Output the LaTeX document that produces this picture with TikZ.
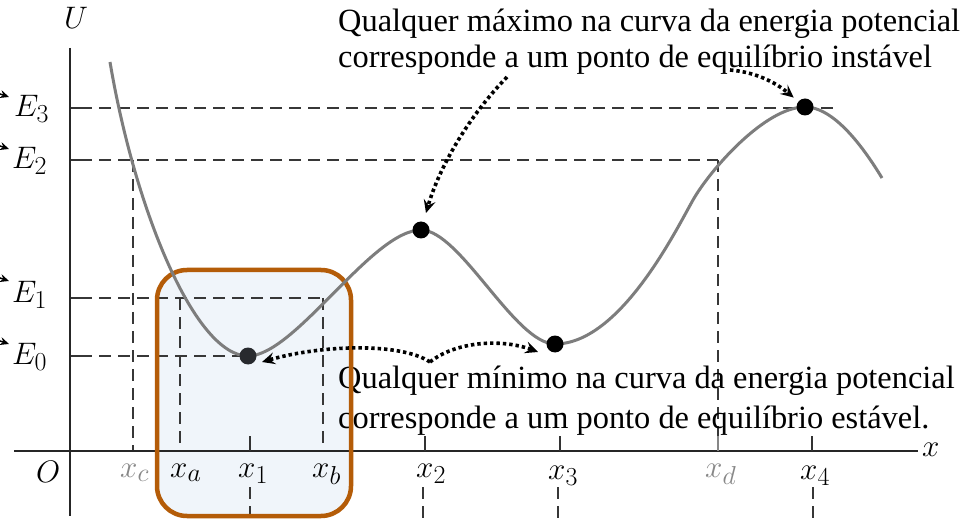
\RequirePackage{fix-cm}
\documentclass[tikz,border=0pt]{standalone}
\usepackage{graphicx}
\usepackage{fontspec}
\setmainfont{Liberation Serif}
\usetikzlibrary{arrows.meta}
\definecolor{boxorange}{RGB}{180,92,8}
\definecolor{boxfill}{RGB}{240,245,250}
\definecolor{curvegray}{RGB}{125,125,125}
\definecolor{dashgray}{RGB}{55,55,55}
\definecolor{labgray}{RGB}{135,135,135}
\definecolor{dotdark}{RGB}{40,42,46}
\newcommand{\bigmath}[1]{\scalebox{1.25}{$#1$}}
\begin{document}
\begin{tikzpicture}[x=1pt,y=-1pt,
 guide/.style={dashgray, line width=1.4pt, dash pattern=on 12pt off 7pt},
 axisline/.style={black!85, line width=1.6pt},
 tickmark/.style={black!80, line width=1.4pt},
 ucurve/.style={curvegray, line width=3pt},
 eqdot/.style={circle, fill=black, inner sep=0pt, minimum size=17pt},
 notearrow/.style={line width=3.6pt, dash pattern=on 3.4pt off 3pt, -{Stealth[length=13pt,width=12pt,inset=5pt]}, black},
 stub/.style={line width=1.5pt, -{Stealth[length=9pt,width=8pt,inset=3pt]}, black},
 mathlab/.style={font=\fontsize{24.88}{25}\selectfont, inner sep=0pt, anchor=base west},
 note/.style={font=\fontsize{32.4}{40}\selectfont, inner sep=0pt, anchor=base west},
]
\useasboundingbox (0,0) rectangle (969,521);
\fill[white] (0,0) rectangle (969,521);

% highlight box fill
\fill[boxfill, rounded corners=30pt] (157,270) rectangle (351,516);

% guide lines
\draw[guide] (80,108) -- (835,108);
\draw[guide] (80,160) -- (718,160);
\draw[guide] (80,298) -- (323,298);
\draw[guide] (80,356) -- (248,356);
\draw[tickmark] (70,108) -- (80,108);
\draw[tickmark] (70,160) -- (80,160);
\draw[tickmark] (70,298) -- (80,298);
\draw[tickmark] (70,356) -- (80,356);
\draw[guide] (133,160) -- (133,451);
\draw[guide] (180,298) -- (180,451);
\draw[guide] (323,298) -- (323,451);
\draw[guide] (718,160) -- (718,451);
\draw[guide] (250,487) -- (250,521);
\draw[guide] (423,487) -- (423,521);
\draw[guide] (558,487) -- (558,521);
\draw[guide] (813,487) -- (813,521);

% axes
\draw[axisline] (14,451) -- (918,451);
\draw[axisline] (70,48) -- (70,516);
\draw[tickmark] (250,436) -- (250,451);
\draw[tickmark] (425,436) -- (425,451);
\draw[tickmark] (560,436) -- (560,451);
\draw[tickmark, labgray] (718,436) -- (718,451);
\draw[tickmark] (812,436) -- (812,451);

% labels
\node[mathlab] (lU) at (64,29) {\bigmath{U}};
\node[mathlab] (lO) at (36,482) {\bigmath{O}};
\node[mathlab] (lx) at (922,456) {\bigmath{x}};
\node[mathlab] (lE3) at (14,117) {\bigmath{E_3}};
\node[mathlab] (lE2) at (12,169) {\bigmath{E_2}};
\node[mathlab] (lE1) at (12,302) {\bigmath{E_1}};
\node[mathlab] (lE0) at (12,364) {\bigmath{E_0}};
\node[mathlab, labgray] (lxc) at (120,477) {\bigmath{x_c}};
\node[mathlab] (lxa) at (170,477) {\bigmath{x_a}};
\node[mathlab] (lx1) at (238,477) {\bigmath{x_1}};
\node[mathlab] (lxb) at (312,477) {\bigmath{x_b}};
\node[mathlab] (lx2) at (416,477) {\bigmath{x_2}};
\node[mathlab] (lx3) at (548,479) {\bigmath{x_3}};
\node[mathlab, labgray] (lxd) at (705,477) {\bigmath{x_d}};
\node[mathlab] (lx4) at (800,479) {\bigmath{x_4}};

% stubs of cut-off arrows at the left edge
\draw[stub] (-6,92) -- (9,97);
\draw[stub] (-6,144) -- (9,149);
\draw[stub] (-6,276) -- (9,281);
\draw[stub] (-6,339) -- (9,344);

% notes
\node[note] (n1) at (338,32) {Qualquer máximo na curva da energia potencial};
\node[note] (n2) at (338,68) {corresponde a um ponto de equilíbrio instável};
\node[note] (n3) at (338,388) {Qualquer mínimo na curva da energia potencial};
\node[note] (n4) at (338,428) {corresponde a um ponto de equilíbrio estável.};

% highlight box border
\draw[boxorange, line width=4.5pt, rounded corners=30pt] (157,270) rectangle (351,516);

% potential energy curve
\draw[ucurve] (110,62) .. controls (135,210) and (195,356) .. (248,356)
  .. controls (295,356) and (372,230) .. (421,230)
  .. controls (460,230) and (515,344) .. (555,344)
  .. controls (620,344) and (676,230) .. (693,200)
  .. controls (710,170) and (765,107) .. (805,107)
  .. controls (835,107) and (865,150) .. (882,178);

% equilibrium points
\node[eqdot, fill=dotdark] (d1) at (248,356) {};
\node[eqdot] (d2) at (421,230) {};
\node[eqdot] (d3) at (555,344) {};
\node[eqdot] (d4) at (805,107) {};

% dotted pointers
\coordinate (a1) at (507,77);
\coordinate (a2) at (730,70);
\coordinate (a3) at (430,362);
\coordinate (t1) at (262,362);
\coordinate (t3) at (538,352);
\draw[notearrow, shorten >=9pt] (a1) .. controls (470,115) and (440,165) .. (d2);
\draw[notearrow, shorten >=6pt] (a2) .. controls (755,72) and (775,82) .. (d4);
\draw[notearrow] (a3) .. controls (400,342) and (320,345) .. (t1);
\draw[notearrow] (a3) .. controls (455,342) and (500,338) .. (t3);
\end{tikzpicture}
\end{document}
